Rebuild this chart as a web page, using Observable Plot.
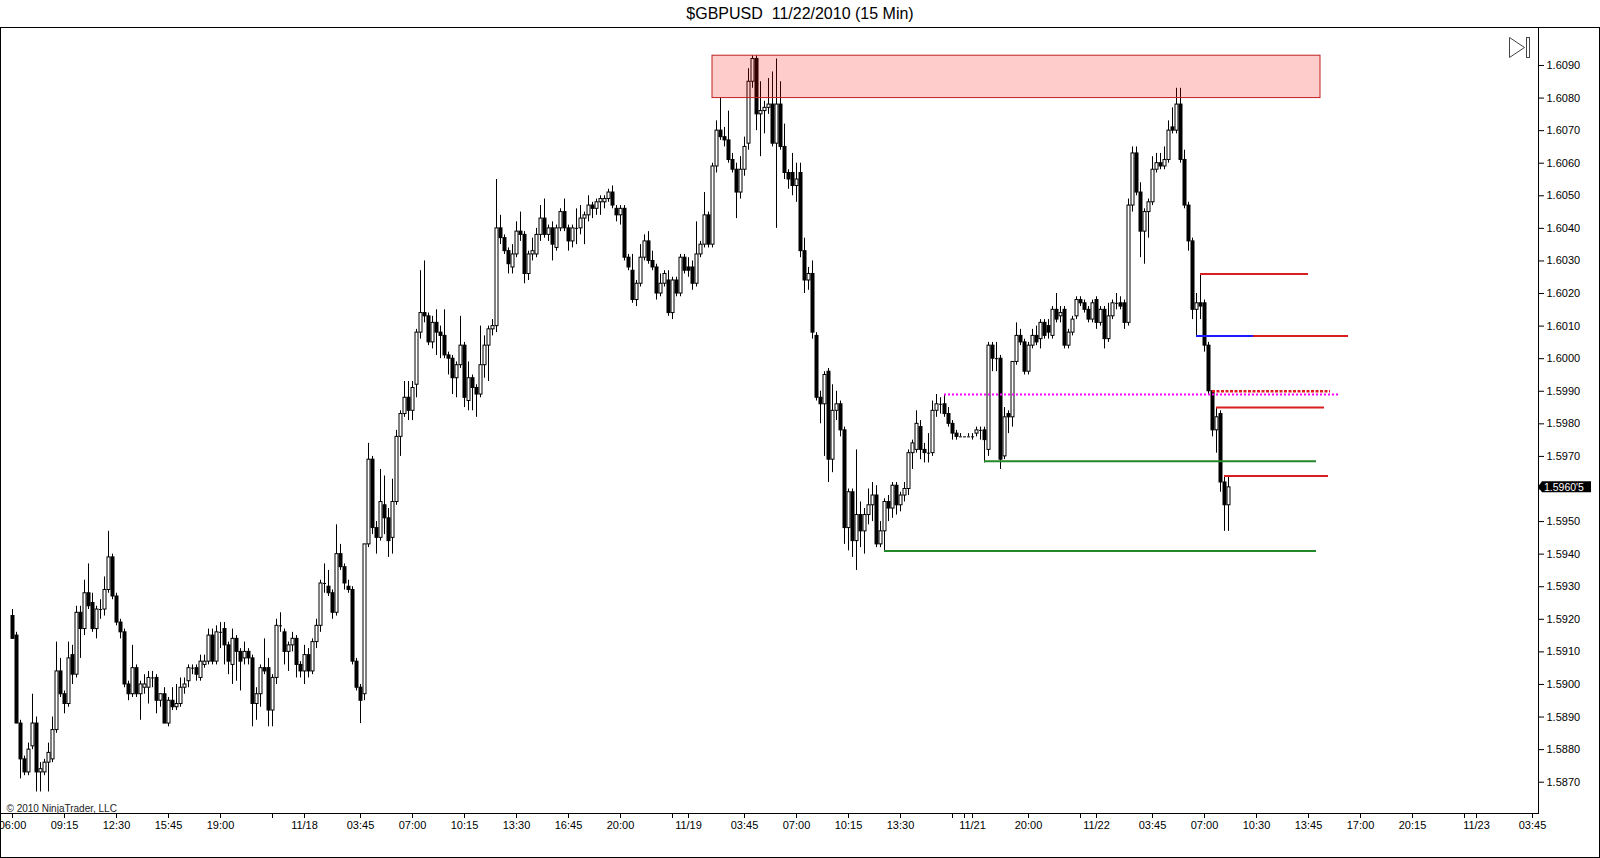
<!DOCTYPE html>
<html><head><meta charset="utf-8">
<script src="https://cdn.jsdelivr.net/npm/d3@7"></script>
<script src="https://cdn.jsdelivr.net/npm/@observablehq/plot@0.6"></script>
<style>
html,body{margin:0;padding:0;background:#fff;overflow:hidden;}
#title{position:absolute;left:0;top:0;width:1600px;height:27px;text-align:center;font:16px "Liberation Sans",Arial,sans-serif;line-height:27px;white-space:pre;color:#000;}
#chart{position:absolute;left:0;top:27px;width:1600px;height:831px;}
#border{position:absolute;left:0;top:27px;width:1600px;height:831px;box-sizing:border-box;border:1px solid #000;pointer-events:none;}
</style></head><body>
<div id="title">$GBPUSD  11/22/2010 (15 Min)</div>
<div id="chart"></div>
<div id="border"></div>
<script>
// 15-minute bars [open, high, low, close], grouped by session
const day17 = [
[1.5921,1.5923,1.5914,1.5914],[1.5915,1.5916,1.5888,1.5888],[1.5888,1.5889,1.5871,1.5877],[1.5877,1.5878,1.5872,1.5873],
[1.5873,1.5882,1.5872,1.5880],[1.5881,1.5897,1.5880,1.5888],[1.5888,1.5890,1.5867,1.5873],[1.5873,1.5876,1.5867,1.5874],
[1.5873,1.5877,1.5872,1.5876],[1.5876,1.5882,1.5867,1.5879],[1.5877,1.5890,1.5876,1.5886],[1.5886,1.5913,1.5885,1.5904],
[1.5904,1.5908,1.5896,1.5897],[1.5897,1.5898,1.5891,1.5894],[1.5894,1.5913,1.5893,1.5908],[1.5909,1.5912,1.5900,1.5903],
[1.5903,1.5924,1.5902,1.5922],[1.5922,1.5924,1.5908,1.5917],[1.5917,1.5932,1.5915,1.5928],[1.5928,1.5937,1.5923,1.5924],
[1.5925,1.5928,1.5916,1.5917],[1.5917,1.5924,1.5914,1.5923],[1.5923,1.5926,1.5920,1.5923],[1.5923,1.5933,1.5921,1.5929],
[1.5929,1.5947,1.5928,1.5939],[1.5939,1.5940,1.5926,1.5927],[1.5927,1.5928,1.5918,1.5919],[1.5919,1.5920,1.5914,1.5916],
[1.5916,1.5917,1.5899,1.5900],[1.5900,1.5901,1.5895,1.5897],[1.5897,1.5912,1.5896,1.5905],[1.5905,1.5906,1.5896,1.5897],
[1.5897,1.5901,1.5889,1.5900],[1.5899,1.5903,1.5897,1.5900],[1.5899,1.5904,1.5894,1.5902],[1.5902,1.5904,1.5899,1.5902],
[1.5902,1.5903,1.5891,1.5895],[1.5895,1.5897,1.5893,1.5897],[1.5897,1.5899,1.5888,1.5888],[1.5888,1.5896,1.5887,1.5895],
[1.5895,1.5899,1.5892,1.5893],[1.5893,1.5900,1.5892,1.5894],[1.5894,1.5902,1.5893,1.5899],[1.5899,1.5902,1.5897,1.5900],
[1.5901,1.5906,1.5899,1.5905],[1.5905,1.5906,1.5903,1.5905],[1.5905,1.5906,1.5901,1.5903],[1.5902,1.5909,1.5901,1.5907],
[1.5906,1.5909,1.5905,1.5907],[1.5907,1.5917,1.5906,1.5915],[1.5915,1.5917,1.5906,1.5907],[1.5907,1.5918,1.5906,1.5916],
[1.5916,1.5919,1.5911,1.5916],[1.5917,1.5919,1.5906,1.5912],[1.5912,1.5913,1.5903,1.5907],[1.5906,1.5917,1.5900,1.5914],
[1.5914,1.5915,1.5901,1.5910],[1.5910,1.5911,1.5898,1.5907],[1.5908,1.5913,1.5906,1.5910],[1.5910,1.5911,1.5906,1.5908],
[1.5908,1.5909,1.5887,1.5894],[1.5894,1.5899,1.5889,1.5897],[1.5897,1.5906,1.5893,1.5905],[1.5905,1.5914,1.5903,1.5904],
[1.5905,1.5908,1.5887,1.5892],[1.5892,1.5903,1.5887,1.5902],[1.5902,1.5920,1.5900,1.5918],[1.5918,1.5922,1.5916,1.5918],
[1.5916,1.5917,1.5906,1.5910],[1.5910,1.5913,1.5904,1.5912],[1.5912,1.5916,1.5910,1.5914],[1.5914,1.5915,1.5902,1.5906],
[1.5906,1.5907,1.5902,1.5904]
];
const day18 = [
[1.5904,1.5912,1.5900,1.5909],[1.5909,1.5911,1.5902,1.5904],[1.5904,1.5914,1.5903,1.5913],[1.5913,1.5920,1.5911,1.5918],
[1.5918,1.5932,1.5916,1.5931],[1.5931,1.5937,1.5928,1.5931],[1.5930,1.5935,1.5927,1.5928],[1.5928,1.5929,1.5920,1.5922],
[1.5922,1.5949,1.5921,1.5940],[1.5940,1.5943,1.5935,1.5936],[1.5936,1.5937,1.5929,1.5931],[1.5930,1.5932,1.5928,1.5929],
[1.5929,1.5930,1.5906,1.5907],[1.5907,1.5908,1.5898,1.5899],[1.5899,1.5900,1.5888,1.5895],[1.5897,1.5943,1.5895,1.5943],
[1.5943,1.5974,1.5942,1.5969],[1.5969,1.5970,1.5946,1.5948],[1.5948,1.5950,1.5940,1.5945],[1.5945,1.5966,1.5944,1.5956],
[1.5955,1.5964,1.5946,1.5951],[1.5951,1.5954,1.5939,1.5944],[1.5945,1.5963,1.5940,1.5956],[1.5956,1.5978,1.5955,1.5976],
[1.5976,1.5984,1.5970,1.5983],[1.5983,1.5993,1.5982,1.5988],[1.5988,1.5993,1.5981,1.5984],[1.5984,1.5993,1.5981,1.5991],
[1.5992,1.6009,1.5988,1.6008],[1.6008,1.6027,1.6006,1.6014],[1.6014,1.6030,1.6011,1.6013],[1.6013,1.6014,1.6004,1.6005],
[1.6005,1.6013,1.6003,1.6011],[1.6011,1.6015,1.6001,1.6008],[1.6008,1.6010,1.6000,1.6007],[1.6007,1.6015,1.6000,1.6001],
[1.6001,1.6002,1.5995,1.6000],[1.6000,1.6001,1.5989,1.5994],[1.5994,1.5999,1.5988,1.5998],[1.5998,1.6013,1.5997,1.6004],
[1.6004,1.6005,1.5985,1.5988],[1.5987,1.5999,1.5984,1.5994],[1.5994,1.5995,1.5984,1.5991],[1.5991,1.5992,1.5982,1.5989],
[1.5989,1.6010,1.5988,1.5998],[1.5998,1.6007,1.5994,1.6004],[1.6004,1.6010,1.5993,1.6009],[1.6009,1.6012,1.6007,1.6010],
[1.6010,1.6055,1.6008,1.6040],[1.6040,1.6044,1.6035,1.6037],[1.6037,1.6038,1.6032,1.6033],[1.6033,1.6034,1.6026,1.6029],
[1.6028,1.6035,1.6026,1.6032],[1.6032,1.6042,1.6031,1.6039],[1.6039,1.6045,1.6036,1.6038],[1.6038,1.6039,1.6023,1.6026],
[1.6026,1.6033,1.6024,1.6032],[1.6032,1.6037,1.6030,1.6033],[1.6032,1.6040,1.6031,1.6038],[1.6038,1.6047,1.6036,1.6043],
[1.6043,1.6049,1.6037,1.6038],[1.6038,1.6041,1.6036,1.6040],[1.6040,1.6042,1.6030,1.6035],[1.6034,1.6041,1.6033,1.6040],
[1.6040,1.6046,1.6039,1.6045],[1.6045,1.6049,1.6039,1.6040],[1.6040,1.6041,1.6033,1.6036],[1.6036,1.6041,1.6034,1.6040],
[1.6040,1.6046,1.6035,1.6040],[1.6040,1.6047,1.6038,1.6043],[1.6043,1.6045,1.6035,1.6044],[1.6044,1.6050,1.6042,1.6047],
[1.6047,1.6048,1.6043,1.6046],[1.6046,1.6049,1.6044,1.6048],[1.6048,1.6050,1.6044,1.6049],[1.6048,1.6050,1.6046,1.6049],
[1.6049,1.6052,1.6048,1.6051],[1.6051,1.6053,1.6046,1.6047],[1.6046,1.6047,1.6042,1.6044],[1.6044,1.6047,1.6041,1.6046],
[1.6046,1.6047,1.6030,1.6031],[1.6031,1.6032,1.6027,1.6028],[1.6027,1.6032,1.6017,1.6018],[1.6018,1.6024,1.6016,1.6023],
[1.6023,1.6035,1.6022,1.6031],[1.6031,1.6038,1.6030,1.6036],[1.6036,1.6039,1.6029,1.6030],[1.6030,1.6033,1.6027,1.6028],
[1.6028,1.6029,1.6018,1.6020],[1.6020,1.6026,1.6019,1.6023],[1.6023,1.6027,1.6022,1.6026],[1.6024,1.6027,1.6013,1.6014],
[1.6014,1.6025,1.6012,1.6024],[1.6024,1.6025,1.6019,1.6020],[1.6020,1.6032,1.6019,1.6031],[1.6031,1.6032,1.6026,1.6027]
];
const day19 = [
[1.6028,1.6031,1.6025,1.6027],[1.6028,1.6030,1.6021,1.6023],[1.6023,1.6042,1.6022,1.6032],[1.6032,1.6036,1.6031,1.6035],
[1.6035,1.6051,1.6034,1.6044],[1.6044,1.6045,1.6034,1.6035],[1.6035,1.6060,1.6034,1.6059],[1.6059,1.6073,1.6057,1.6070],
[1.6070,1.6080,1.6067,1.6068],[1.6068,1.6071,1.6065,1.6067],[1.6067,1.6076,1.6060,1.6061],[1.6061,1.6063,1.6057,1.6058],
[1.6058,1.6060,1.6043,1.6051],[1.6051,1.6062,1.6049,1.6058],[1.6058,1.6068,1.6056,1.6065],[1.6066,1.6089,1.6064,1.6085],
[1.6085,1.6093,1.6083,1.6092],[1.6092,1.6093,1.6070,1.6075],[1.6075,1.6085,1.6062,1.6076],[1.6076,1.6079,1.6069,1.6077],
[1.6077,1.6086,1.6075,1.6078],[1.6078,1.6088,1.6065,1.6066],[1.6066,1.6092,1.6040,1.6078],[1.6078,1.6085,1.6064,1.6065],
[1.6065,1.6072,1.6055,1.6057],[1.6057,1.6058,1.6052,1.6055],[1.6057,1.6063,1.6050,1.6053],[1.6053,1.6060,1.6048,1.6055],
[1.6057,1.6060,1.6031,1.6033],[1.6033,1.6037,1.6020,1.6024],[1.6024,1.6028,1.6021,1.6026],[1.6026,1.6030,1.6006,1.6008],
[1.6007,1.6008,1.5987,1.5988],[1.5988,1.5990,1.5980,1.5986],[1.5986,1.5996,1.5970,1.5995],[1.5996,1.5997,1.5962,1.5969],
[1.5969,1.5992,1.5965,1.5984],[1.5984,1.5990,1.5981,1.5986],[1.5986,1.5987,1.5976,1.5978],[1.5978,1.5979,1.5943,1.5948],
[1.5948,1.5960,1.5941,1.5959],[1.5959,1.5960,1.5939,1.5944],[1.5944,1.5972,1.5935,1.5952],[1.5952,1.5956,1.5942,1.5947],
[1.5947,1.5954,1.5940,1.5952],[1.5952,1.5960,1.5949,1.5955],[1.5955,1.5962,1.5950,1.5958],[1.5958,1.5961,1.5942,1.5943],
[1.5943,1.5950,1.5942,1.5947],[1.5947,1.5957,1.5941,1.5956],[1.5956,1.5958,1.5950,1.5954],[1.5954,1.5962,1.5951,1.5961],
[1.5961,1.5962,1.5952,1.5955],[1.5955,1.5959,1.5953,1.5958],[1.5958,1.5962,1.5956,1.5960],[1.5960,1.5972,1.5958,1.5971],
[1.5971,1.5975,1.5966,1.5974],[1.5972,1.5984,1.5971,1.5980],[1.5979,1.5981,1.5969,1.5972],[1.5972,1.5974,1.5968,1.5971],
[1.5971,1.5977,1.5968,1.5971],[1.5971,1.5987,1.5970,1.5984],[1.5984,1.5989,1.5982,1.5986],[1.5986,1.5988,1.5983,1.5986],
[1.5986,1.5989,1.5982,1.5983],[1.5983,1.5985,1.5979,1.5980],[1.5980,1.5981,1.5975,1.5977],[1.5977,1.5978,1.5975,1.5976]
];
const day21 = [
[1.5976,1.5977,1.5976,1.5976],[1.5976,1.5976,1.5976,1.5976],[1.5976,1.5977,1.5976,1.5976],[1.5976,1.5977,1.5975,1.5976],
[1.5977,1.5979,1.5976,1.5978],[1.5978,1.5979,1.5975,1.5978],[1.5978,1.5979,1.5968,1.5975],[1.5972,1.6005,1.5970,1.6004],
[1.6004,1.6005,1.5996,1.6000],[1.6000,1.6005,1.5996,1.6000],[1.6000,1.6001,1.5966,1.5969],[1.5970,1.5985,1.5969,1.5982],
[1.5983,1.5984,1.5977,1.5982],[1.5982,1.5999,1.5979,1.5999],[1.5999,1.6011,1.5998,1.6007],[1.6007,1.6009,1.6004,1.6005],
[1.6005,1.6006,1.5995,1.5996],[1.5996,1.6005,1.5995,1.6004],[1.6004,1.6009,1.6003,1.6007],[1.6007,1.6010,1.6004,1.6005],
[1.6006,1.6012,1.6003,1.6011],[1.6011,1.6012,1.6006,1.6007],[1.6010,1.6012,1.6006,1.6008],[1.6007,1.6016,1.6006,1.6015],
[1.6015,1.6020,1.6011,1.6012],[1.6013,1.6016,1.6011,1.6014],[1.6015,1.6016,1.6003,1.6004],[1.6004,1.6009,1.6003,1.6008],
[1.6008,1.6013,1.6007,1.6012],[1.6013,1.6019,1.6012,1.6018],[1.6018,1.6019,1.6016,1.6017],[1.6017,1.6018,1.6014,1.6015],
[1.6015,1.6016,1.6011,1.6012],[1.6012,1.6018,1.6011,1.6017]
];
const day22 = [
[1.6018,1.6019,1.6009,1.6011],[1.6011,1.6016,1.6010,1.6015],[1.6015,1.6016,1.6003,1.6006],[1.6006,1.6017,1.6005,1.6013],
[1.6013,1.6018,1.6012,1.6017],[1.6017,1.6020,1.6015,1.6017],[1.6017,1.6019,1.6015,1.6016],[1.6017,1.6018,1.6009,1.6011],
[1.6011,1.6049,1.6010,1.6047],[1.6047,1.6065,1.6045,1.6063],[1.6063,1.6065,1.6050,1.6051],[1.6051,1.6054,1.6031,1.6039],
[1.6039,1.6046,1.6029,1.6045],[1.6045,1.6049,1.6037,1.6048],[1.6048,1.6062,1.6047,1.6058],[1.6058,1.6063,1.6057,1.6060],
[1.6060,1.6063,1.6058,1.6059],[1.6059,1.6065,1.6058,1.6061],[1.6061,1.6073,1.6060,1.6070],[1.6071,1.6077,1.6069,1.6070],
[1.6070,1.6083,1.6069,1.6078],[1.6078,1.6083,1.6060,1.6061],[1.6061,1.6064,1.6046,1.6047],[1.6047,1.6048,1.6033,1.6036],
[1.6036,1.6037,1.6012,1.6015],[1.6015,1.6020,1.6007,1.6017],[1.6017,1.6026,1.6012,1.6016],[1.6017,1.6018,1.6002,1.6004],
[1.6004,1.6005,1.5989,1.5990],[1.5990,1.5990,1.5976,1.5978],[1.5978,1.5985,1.5971,1.5982],[1.5983,1.5984,1.5959,1.5962],
[1.5962,1.5964,1.5947,1.5955],[1.5955,1.5964,1.5947,1.59605]
];

// bar-index axis ticks and labels
const xTickPos = [0,13,26,39,52,65,73,87,100,113,126,139,152,165,169,183,196,209,222,235,238,240,254,267,271,285,298,311,324,337,350,363,366,380];
const xTickLabel = ["06:00","09:15","12:30","15:45","19:00","","11/18","03:45","07:00","10:15","13:30","16:45","20:00","","11/19","03:45","07:00","10:15","13:30","","","11/21","20:00","","11/22","03:45","07:00","10:30","13:45","17:00","20:15","","11/23","03:45"];
const yTicks = [1.5870,1.5880,1.5890,1.5900,1.5910,1.5920,1.5930,1.5940,1.5950,1.5960,1.5970,1.5980,1.5990,1.6000,1.6010,1.6020,1.6030,1.6040,1.6050,1.6060,1.6070,1.6080,1.6090];

// drawn zone and levels (bar index from/to, price)
const zone = [{from: 175, to: 327, low: 1.6080, high: 1.6093}];
const redLevels = [{from: 297, to: 324, price: 1.6026}, {from: 310.25, to: 334, price: 1.6007}, {from: 301, to: 328, price: 1.5985}, {from: 303, to: 329, price: 1.5964}];
const blueLevels = [{from: 296, to: 310.25, price: 1.6007}];
const greenLevels = [{from: 218, to: 326, price: 1.5941}, {from: 243, to: 326, price: 1.59685}];
const magentaLevels = [{from: 233, to: 331.5, price: 1.5989}];
const redDashedLevels = [{from: 300, to: 329.5, price: 1.5990}];
const lastPriceLabel = "1.5960'5";
const copyright = "© 2010 NinjaTrader, LLC";

const bars = [...day17, ...day18, ...day19, ...day21, ...day22].map((r, i) => ({i, open: r[0], high: r[1], low: r[2], close: r[3]}));
const bodies = bars.filter(d => d.open !== d.close);
const dojis = bars.filter(d => d.open === d.close);
const labelMap = new Map(xTickPos.map((p, k) => [p, xTickLabel[k]]));
const lastClose = bars[bars.length - 1].close;
const fmt = d3.format(".4f");
// the price label hidden under the last-price marker
const hiddenTick = fmt(Math.floor(lastClose * 1000) / 1000);

const lvl = (data, stroke, extra = {}) => Plot.ruleY(data, {x1: "from", x2: "to", y: "price", stroke, strokeWidth: 2, ...extra});

const chart = Plot.plot({
  width: 1600, height: 831,
  marginTop: 0, marginLeft: 0, marginRight: 62, marginBottom: 45,
  x: {domain: [-3, 381.5]},
  y: {domain: [1.586039, 1.610166]},
  style: {fontFamily: "'Liberation Sans', Arial, sans-serif", fontSize: "11px", color: "#000", background: "#fff"},
  marks: [
    Plot.ruleX(bars, {x: "i", y1: "low", y2: "high", stroke: "#000", strokeWidth: 1}),
    Plot.rect(bodies, {x1: d => d.i - 0.25, x2: d => d.i + 0.5, y1: "open", y2: "close",
      fill: d => d.close > d.open ? "#fff" : "#000", stroke: "#000", strokeWidth: 1}),
    Plot.ruleY(dojis, {x1: d => d.i - 0.25, x2: d => d.i + 0.5, y: "close", stroke: "#000", strokeWidth: 1}),
    lvl(greenLevels, "#23882a"),
    lvl(magentaLevels, "#ff00ff", {strokeDasharray: "2,2"}),
    lvl(redDashedLevels, "#e01e1e", {strokeDasharray: "3,1.5", strokeWidth: 2.5}),
    lvl(redLevels, "#d81e1e"),
    lvl(blueLevels, "#1a1aff"),
    Plot.rect(zone, {x1: "from", x2: "to", y1: "low", y2: "high", fill: "#ff0000", fillOpacity: 0.2, stroke: "#c02020", strokeWidth: 1}),
    Plot.frame({stroke: "#000"}),
    Plot.axisY({anchor: "right", ticks: yTicks, tickSize: 5, tickPadding: 3, tickFormat: d => fmt(d) === hiddenTick ? "" : fmt(d), label: null}),
    Plot.axisX({ticks: xTickPos, tickSize: 5, tickPadding: 3, tickFormat: d => labelMap.get(d), label: null}),
    Plot.text([copyright], {frameAnchor: "bottom-left", dx: 6, dy: -2, fontSize: 10, textAnchor: "start", lineAnchor: "bottom", fill: "#222"})
  ]
});
document.getElementById("chart").appendChild(chart);

// last price marker on the price axis
const svg = d3.select(chart);
const yy = chart.scale("y").apply(lastClose);
const xr = chart.scale("x").range[1];
svg.append("path").attr("d", `M${xr},${yy} l4,-5.5 h49 v11 h-49 z`).attr("fill", "#000");
svg.append("text").attr("x", xr + 6).attr("y", yy).attr("dy", "0.36em").attr("fill", "#fff")
  .attr("text-anchor", "start").attr("font-size", 10.5)
  .attr("font-family", "'Liberation Sans', Arial, sans-serif").text(lastPriceLabel);
// scroll-to-end icon
svg.append("path").attr("d", `M${xr - 28.5},10.5 L${xr - 13.5},20.5 L${xr - 28.5},30.5 Z`).attr("fill", "none").attr("stroke", "#444");
svg.append("rect").attr("x", xr - 11.5).attr("y", 10.5).attr("width", 3).attr("height", 20).attr("fill", "none").attr("stroke", "#444");
</script>
</body></html>
